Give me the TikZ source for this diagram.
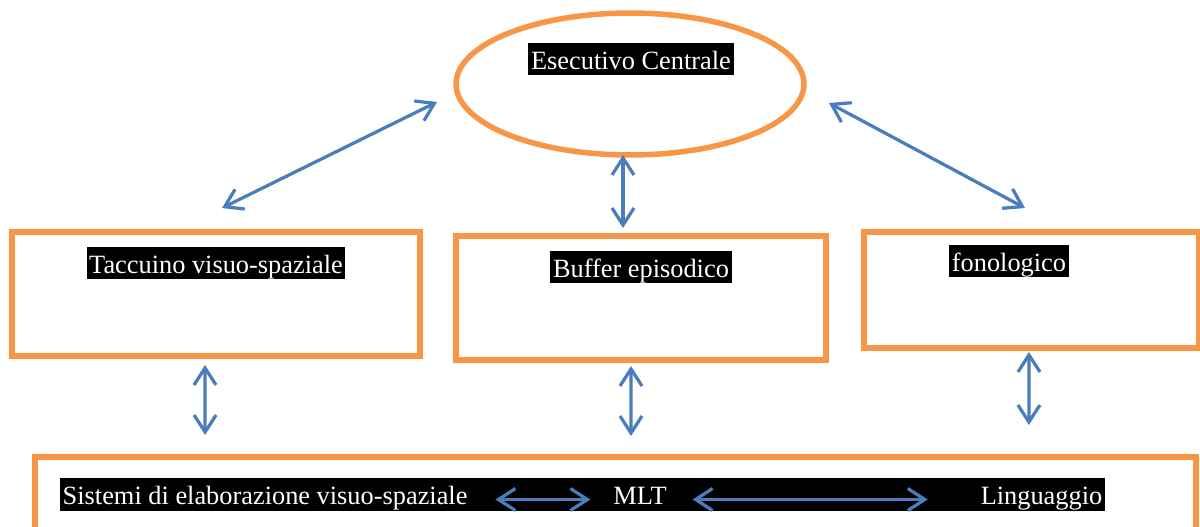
\documentclass[tikz,border=0pt]{standalone}
\usepackage{fontspec}
\setmainfont{Liberation Serif}
\usetikzlibrary{arrows.meta,shapes.geometric}

\definecolor{wmorange}{HTML}{F79646}
\definecolor{wmblue}{HTML}{4A7EBB}

\tikzset{
    store/.style={draw=wmorange, line width=0.11cm, outer sep=0pt, rectangle},
    lbl/.style={fill=black, text=white, font=\fontsize{15}{18}\selectfont,
        inner xsep=1.5pt, inner ysep=0pt, text height=15pt, text depth=3.6pt},
    link/.style={wmblue, line width=0.065cm,
        {Straight Barb[length=0.34cm, width=0.44cm]}-{Straight Barb[length=0.34cm, width=0.44cm]}}
}

\begin{document}
\begin{tikzpicture}[x=0.02cm, y=-0.02cm]
        \useasboundingbox (0,0) rectangle (1200,527);
        % esecutivo centrale
        \node[store, ellipse, minimum width=6.96cm, minimum height=2.84cm] (ec) at (630,84) {};
        \node[lbl] (ectext) at (631,59) {Esecutivo Centrale};
        % the three slave systems
        \node[store, minimum width=8.16cm, minimum height=2.48cm] (taccuino) at (216,294) {};
        \node[store, minimum width=7.40cm, minimum height=2.48cm] (buffer) at (641,298) {};
        \node[store, minimum width=6.70cm, minimum height=2.32cm] (fonologico) at (1031.5,290) {};
        \node[lbl] (taccuinotext) at (216,263) {Taccuino visuo-spaziale};
        \node[lbl] (buffertext) at (641,267) {Buffer episodico};
        \node[lbl] (fonologicotext) at (1009,261) {fonologico};
        % long term memory
        \node[store, minimum width=23.22cm, minimum height=1.5cm] (mlt box) at (615.5,494.5) {};
        \node[lbl, minimum width=20.9cm] (bar) at (582.5,494.5) {};
        \node[lbl, anchor=west] (sistemi) at (bar.west) {Sistemi di elaborazione visuo-spaziale};
        \node[lbl] (mlt) at (640,494.5) {MLT};
        \node[lbl, anchor=east] (linguaggio) at (bar.east) {Linguaggio};

        \draw[link] ([shift={(6,-24)}]taccuino.north) -- ([shift={(-19,18)}]ec.west);
        \draw[link] ([shift={(25,19)}]ec.east) -- ([shift={(-6.5,-24)}]fonologico.north);
        \draw[link] ([shift={(-7,0)}]ec.south) -- ([shift={(-18,-8)}]buffer.north);
        \draw[link] ([shift={(-11,9)}]taccuino.south) -- ([shift={(170,-22)}]mlt box.north west);
        \draw[link] ([shift={(-10,6)}]buffer.south) -- ([shift={(15.5,-21)}]mlt box.north);
        \draw[link] ([shift={(-2.5,4)}]fonologico.south) -- ([shift={(-167,-32)}]mlt box.north east);
        \draw[link] ([shift={(25,5)}]sistemi.east) -- ([shift={(-20,5)}]mlt.west);
        \draw[link] ([shift={(23,5)}]mlt.east) -- ([shift={(-50,5)}]linguaggio.west);
\end{tikzpicture}
\end{document}
